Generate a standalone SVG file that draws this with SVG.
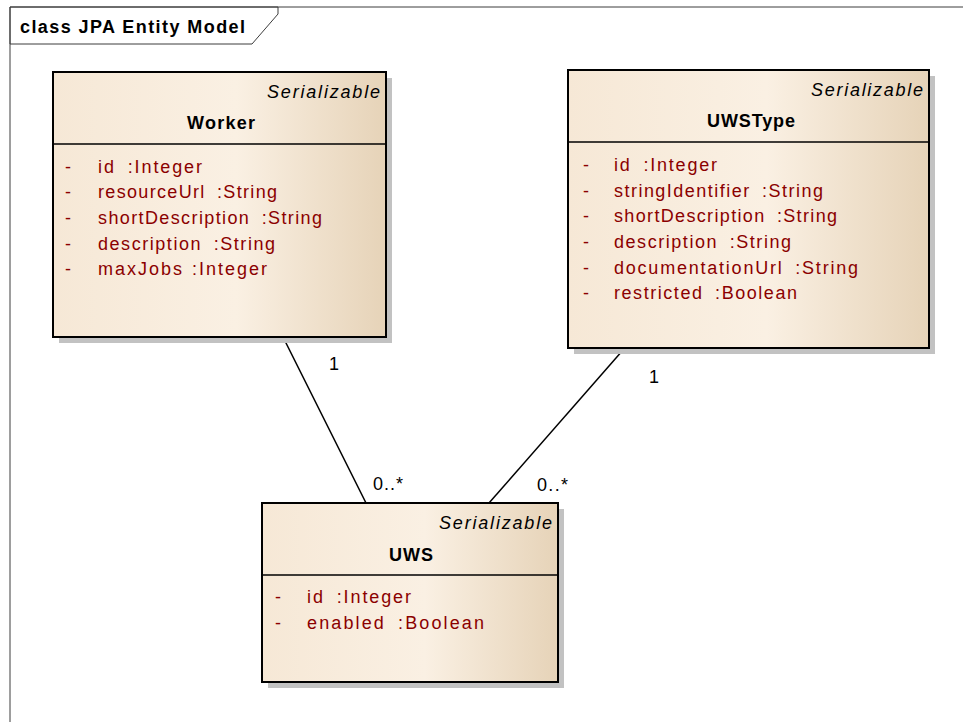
<svg xmlns="http://www.w3.org/2000/svg" width="963" height="722" viewBox="0 0 963 722">
  <defs>
    <linearGradient id="classFill" x1="0" y1="0" x2="1" y2="0">
      <stop offset="0" stop-color="#F6E8D6"/>
      <stop offset="0.55" stop-color="#FAF0E3"/>
      <stop offset="1" stop-color="#E6D3B8"/>
    </linearGradient>
    <style>
      text { font-family: "Liberation Sans", Arial, sans-serif; font-size: 18px; }
      .title { font-weight: bold; fill: #000; }
      .stereo { font-style: italic; fill: #000; }
      .name { font-weight: bold; fill: #000; }
      .attr { fill: #8B0000; }
      .mult { fill: #000; }
      .shadow { fill: #C2C2C2; }
      .box { fill: url(#classFill); stroke: #000; stroke-width: 2; }
      .sep { stroke: #000; stroke-width: 1.5; }
      .frame { fill: none; stroke: #3C3C3C; stroke-width: 1; }
      .assoc { stroke: #000; stroke-width: 1.5; fill: none; }
    </style>
  </defs>

  <rect width="963" height="722" fill="#FFFFFF"/>

  <!-- diagram frame with title tab -->
  <g id="frame">
    <path class="frame" d="M963,7 H10 V722"/>
    <path class="frame" d="M10,7 H278 V14 L252,44 H10 Z" fill="#FFFFFF"/>
    <text class="title" x="20" y="33" textLength="225" lengthAdjust="spacing">class JPA Entity Model</text>
  </g>

  <!-- associations -->
  <g id="connectors">
    <line class="assoc" x1="283" y1="337" x2="366" y2="503"/>
    <line class="assoc" x1="623" y1="350" x2="489" y2="503"/>
    <text class="mult" x="329" y="370">1</text>
    <text class="mult" x="373" y="490" textLength="30" lengthAdjust="spacing">0..*</text>
    <text class="mult" x="649" y="383">1</text>
    <text class="mult" x="537" y="491" textLength="31" lengthAdjust="spacing">0..*</text>
  </g>

  <!-- Worker -->
  <g id="worker">
    <rect class="shadow" x="59" y="78" width="333" height="265"/>
    <rect class="box" x="53" y="72" width="333" height="265"/>
    <line class="sep" x1="53" y1="144" x2="386" y2="144"/>
    <text class="stereo" x="267" y="98" textLength="113" lengthAdjust="spacing">Serializable</text>
    <text class="name" x="187" y="129" textLength="68" lengthAdjust="spacing">Worker</text>
    <text class="attr" x="65" y="173">-</text>
    <text class="attr" x="98" y="173" textLength="104" lengthAdjust="spacing">id <tspan dx="5">:Integer</tspan></text>
    <text class="attr" x="65" y="198">-</text>
    <text class="attr" x="98" y="198" textLength="179" lengthAdjust="spacing">resourceUrl <tspan dx="5">:String</tspan></text>
    <text class="attr" x="65" y="224">-</text>
    <text class="attr" x="98" y="224" textLength="224" lengthAdjust="spacing">shortDescription <tspan dx="5">:String</tspan></text>
    <text class="attr" x="65" y="250">-</text>
    <text class="attr" x="98" y="250" textLength="177" lengthAdjust="spacing">description <tspan dx="5">:String</tspan></text>
    <text class="attr" x="65" y="275">-</text>
    <text class="attr" x="98" y="275" textLength="169" lengthAdjust="spacing">maxJobs <tspan dx="1">:Integer</tspan></text>
  </g>

  <!-- UWSType -->
  <g id="uwstype">
    <rect class="shadow" x="574" y="76" width="361" height="278"/>
    <rect class="box" x="568" y="70" width="361" height="278"/>
    <line class="sep" x1="568" y1="142" x2="929" y2="142"/>
    <text class="stereo" x="811" y="96" textLength="112" lengthAdjust="spacing">Serializable</text>
    <text class="name" x="707" y="127" textLength="88" lengthAdjust="spacing">UWSType</text>
    <text class="attr" x="583" y="171">-</text>
    <text class="attr" x="614" y="171" textLength="103" lengthAdjust="spacing">id <tspan dx="5">:Integer</tspan></text>
    <text class="attr" x="583" y="197">-</text>
    <text class="attr" x="614" y="197" textLength="209" lengthAdjust="spacing">stringIdentifier <tspan dx="5">:String</tspan></text>
    <text class="attr" x="583" y="222">-</text>
    <text class="attr" x="614" y="222" textLength="223" lengthAdjust="spacing">shortDescription <tspan dx="5">:String</tspan></text>
    <text class="attr" x="583" y="248">-</text>
    <text class="attr" x="614" y="248" textLength="177" lengthAdjust="spacing">description <tspan dx="5">:String</tspan></text>
    <text class="attr" x="583" y="274">-</text>
    <text class="attr" x="614" y="274" textLength="244" lengthAdjust="spacing">documentationUrl <tspan dx="5">:String</tspan></text>
    <text class="attr" x="583" y="299">-</text>
    <text class="attr" x="614" y="299" textLength="183" lengthAdjust="spacing">restricted <tspan dx="5">:Boolean</tspan></text>
  </g>

  <!-- UWS -->
  <g id="uws">
    <rect class="shadow" x="268" y="509" width="296" height="179"/>
    <rect class="box" x="262" y="503" width="296" height="179"/>
    <line class="sep" x1="262" y1="575" x2="558" y2="575"/>
    <text class="stereo" x="439" y="529" textLength="113" lengthAdjust="spacing">Serializable</text>
    <text class="name" x="389" y="561" textLength="44" lengthAdjust="spacing">UWS</text>
    <text class="attr" x="275" y="603">-</text>
    <text class="attr" x="307" y="603" textLength="104" lengthAdjust="spacing">id <tspan dx="5">:Integer</tspan></text>
    <text class="attr" x="275" y="629">-</text>
    <text class="attr" x="307" y="629" textLength="177" lengthAdjust="spacing">enabled <tspan dx="5">:Boolean</tspan></text>
  </g>
</svg>
